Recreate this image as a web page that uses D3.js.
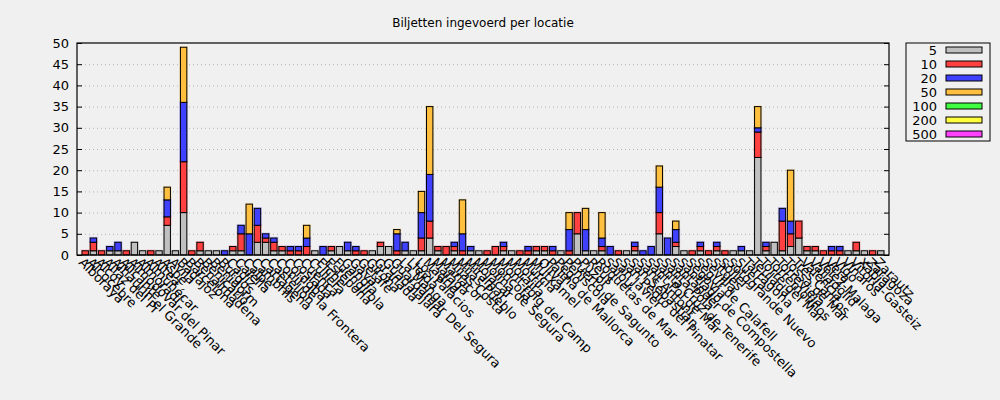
<!DOCTYPE html>
<html><head><meta charset="utf-8">
<script src="https://cdn.jsdelivr.net/npm/d3@7"></script>
<style>body{margin:0;background:#f0f0f0} svg text{font-family:"DejaVu Sans",sans-serif;fill:#000}</style>
</head><body><svg id="c" width="1000" height="400"></svg>
<script>
const chartTitle = "Biljetten ingevoerd per locatie";
const locations = [
"Alboraya","Alcocebre","Alcoy","Alfaz del Pi","Alhaurín el Grande","Alicante","Almodóvar del Pinar","Almoradí","Almuñécar","Altea",
"Aspe","Avila","Badajoz","Barcelona","Benalmádena","Benicarló","Benidorm","Burgos","Cádiz","Calella",
"Calpe","Cambrils","Cartagena","Castellón","Conil de la Frontera","Córdoba","Coslada","Cuenca","Cullera","Elche",
"Estepona","Fuengirola","Gandía","Gavà","Getafe","Girona","Granada","Guadalajara","Guardamar Del Segura","La Manga",
"Lleida","Los Palacios","Madrid","Málaga","Manacor","Mijas Costa","Mijas Pueblo","Miramar","Mojácar","Molina de Segura",
"Moncofa","Mont-roig del Camp","Moraira","Motril","Murcia","Mutxamel","Oliva","Palma de Mallorca","Pego","Peñíscola",
"Puerto de Sagunto","Puzol","Reus","Roquetas de Mar","Salou","San Javier","San Pedro del Pinatar","San Sebastián","Sant Antoni","Sant Pol de Mar",
"Santa Cruz de Tenerife","Santa Pola","Santander","Santiago de Compostella","Segovia","Segur de Calafell","Sevilla","Sitges","Sóller","Sotogrande Nuevo",
"Sueca","Tarragona","Teulada","Torre del Mar","Torremolinos","Torrevieja","Tossa de Mar","Tres Cantos","Valencia","Valladolid",
"Vélez-Malaga","Vera","Vigo","Vinaròs","Vitoria-Gasteiz","Xàbia","Zaragoza","Zarautz"
];
const denominations = ["5","10","20","50","100","200","500"];
const colors = ["#c0c0c0","#ff4040","#4040ff","#ffc040","#40ff40","#ffff40","#ff40ff"];
const yTicks = [0,5,10,15,20,25,30,35,40,45,50];

const v5 = [
0,1,0,1,1,0,3,1,0,1,
7,1,10,0,1,1,1,0,1,1,
0,3,3,1,1,0,0,0,1,0,
1,2,1,0,0,1,2,2,0,1,
1,1,4,1,0,1,0,1,1,0,
0,1,1,0,0,1,1,0,1,0,
5,1,1,1,0,0,1,1,0,0,
5,0,2,1,0,1,0,1,0,1,
1,1,23,1,3,1,2,4,1,1,
0,0,0,1,1,1,0,1];
const v10 = [
1,2,1,0,0,1,0,0,1,0,
2,0,12,1,2,0,0,0,1,4,
0,4,1,2,1,1,1,2,0,0,
1,0,0,1,1,0,1,0,1,0,
0,3,4,1,2,1,1,0,0,1,
2,1,0,1,1,1,1,1,0,1,
5,0,0,1,0,1,0,1,0,0,
5,0,1,0,1,1,1,1,1,0,
0,0,6,1,0,7,3,4,1,1,
1,1,1,0,2,0,1,0];
const v20 = [
0,1,0,1,2,0,0,0,0,0,
4,0,14,0,0,0,0,1,0,2,
5,4,1,1,0,1,1,2,0,2,
0,0,2,1,0,0,0,0,4,2,
0,6,11,0,0,1,4,1,0,0,
0,1,0,0,1,0,0,1,0,5,
0,5,0,2,2,0,0,1,1,2,
6,4,3,0,0,1,0,1,0,0,
1,0,1,1,0,3,3,0,0,0,
0,1,1,0,0,0,0,0];
const v50 = [
0,0,0,0,0,0,0,0,0,0,
3,0,13,0,0,0,0,0,0,0,
7,0,0,0,0,0,0,3,0,0,
0,0,0,0,0,0,0,0,1,0,
0,5,16,0,0,0,8,0,0,0,
0,0,0,0,0,0,0,0,0,4,
0,5,0,6,0,0,0,0,0,0,
5,0,2,0,0,0,0,0,0,0,
0,0,5,0,0,0,12,0,0,0,
0,0,0,0,0,0,0,0];
const v100 = [
0,0,0,0,0,0,0,0,0,0,0,0,0,0,0,0,0,0,0,0,0,0,0,0,0,0,0,0,0,0,0,0,0,0,0,0,0,0,0,0,0,0,0,0,0,0,0,0,0,
0,0,0,0,0,0,0,0,0,0,0,0,0,0,0,0,0,0,0,0,0,0,0,0,0,0,0,0,0,0,0,0,0,0,0,0,0,0,0,0,0,0,0,0,0,0,0,0,0];
const v200 = [
0,0,0,0,0,0,0,0,0,0,0,0,0,0,0,0,0,0,0,0,0,0,0,0,0,0,0,0,0,0,0,0,0,0,0,0,0,0,0,0,0,0,0,0,0,0,0,0,0,
0,0,0,0,0,0,0,0,0,0,0,0,0,0,0,0,0,0,0,0,0,0,0,0,0,0,0,0,0,0,0,0,0,0,0,0,0,0,0,0,0,0,0,0,0,0,0,0,0];
const v500 = [
0,0,0,0,0,0,0,0,0,0,0,0,0,0,0,0,0,0,0,0,0,0,0,0,0,0,0,0,0,0,0,0,0,0,0,0,0,0,0,0,0,0,0,0,0,0,0,0,0,
0,0,0,0,0,0,0,0,0,0,0,0,0,0,0,0,0,0,0,0,0,0,0,0,0,0,0,0,0,0,0,0,0,0,0,0,0,0,0,0,0,0,0,0,0,0,0,0,0];
const series = [v5,v10,v20,v50,v100,v200,v500];

const table = locations.map((loc,i)=>{
  const r = {loc};
  denominations.forEach((d,k)=>{ r[d] = series[k][i]; });
  return r;
});

const svg = d3.select("#c");
const L = 77, R = 889, T = 43, B = 255;
const x = d3.scalePoint().domain(locations).range([L,R]).padding(1);
const y = d3.scaleLinear().domain([0,50]).range([B,T]);
const bw = 6.4;

svg.append("rect").attr("width",1000).attr("height",400).attr("fill","#f0f0f0");

svg.append("text").attr("x",483).attr("y",27).attr("text-anchor","middle")
  .style("font-size","12px").text(chartTitle);

// grid
svg.append("g").selectAll("line").data(yTicks.filter(t=>t>0&&t<50)).join("line")
  .attr("x1",L).attr("x2",R).attr("y1",d=>y(d)+0.5).attr("y2",d=>y(d)+0.5)
  .attr("stroke","#b4b4b4").attr("stroke-width",1).attr("stroke-dasharray","1,3");

const stacked = d3.stack().keys(denominations)(table);

const gHalo = svg.append("g");
const gBars = svg.append("g");
stacked.forEach((layer,k)=>{
  const segs = layer.filter(s=>s[1]-s[0]>0);
  gHalo.selectAll(null).data(segs).join("rect")
    .attr("x",s=>x(s.data.loc)-bw/2-1.2).attr("width",bw+2.4)
    .attr("y",s=>y(s[1])-1.2).attr("height",s=>y(s[0])-y(s[1])+1.2)
    .attr("fill",colors[k]).attr("opacity",0.3);
});
stacked.forEach((layer,k)=>{
  const segs = layer.filter(s=>s[1]-s[0]>0);
  gBars.selectAll(null).data(segs).join("rect")
    .attr("x",s=>x(s.data.loc)-bw/2).attr("width",bw)
    .attr("y",s=>y(s[1])).attr("height",s=>y(s[0])-y(s[1]))
    .attr("fill",colors[k]).attr("stroke","#000").attr("stroke-width",1);
});

// axes
const ax = svg.append("g").attr("transform",`translate(${L},0)`)
  .call(d3.axisLeft(y).tickValues(yTicks).tickSize(-5).tickPadding(8));
ax.select(".domain").remove();
ax.selectAll("text").style("font-size","13px").style("font-family","DejaVu Sans");
const ax2 = svg.append("g").attr("transform",`translate(${R},0)`)
  .call(d3.axisRight(y).tickValues(yTicks).tickSize(-5).tickFormat(""));
ax2.select(".domain").remove();

// frame
svg.append("rect").attr("x",L).attr("y",T).attr("width",R-L).attr("height",B-T)
  .attr("fill","none").attr("stroke","#000").attr("stroke-width",1.2);

// x labels
svg.append("g").selectAll("text").data(locations).join("text")
  .attr("transform",d=>`translate(${x(d)-4},${B+5}) rotate(45)`)
  .attr("dy","0.35em").style("font-size","13px").text(d=>d);

// legend
const lg = svg.append("g");
lg.append("rect").attr("x",906).attr("y",43).attr("width",84).attr("height",98)
  .attr("fill","#f0f0f0").attr("stroke","#000").attr("stroke-width",1);
denominations.forEach((d,k)=>{
  const cy = 50 + 14*k;
  lg.append("text").attr("x",937).attr("y",cy).attr("dy","0.35em").attr("text-anchor","end")
    .style("font-size","13px").text(d);
  lg.append("rect").attr("x",946).attr("y",cy-3).attr("width",36).attr("height",6)
    .attr("fill",colors[k]).attr("stroke","#000").attr("stroke-width",1);
});
</script></body></html>
